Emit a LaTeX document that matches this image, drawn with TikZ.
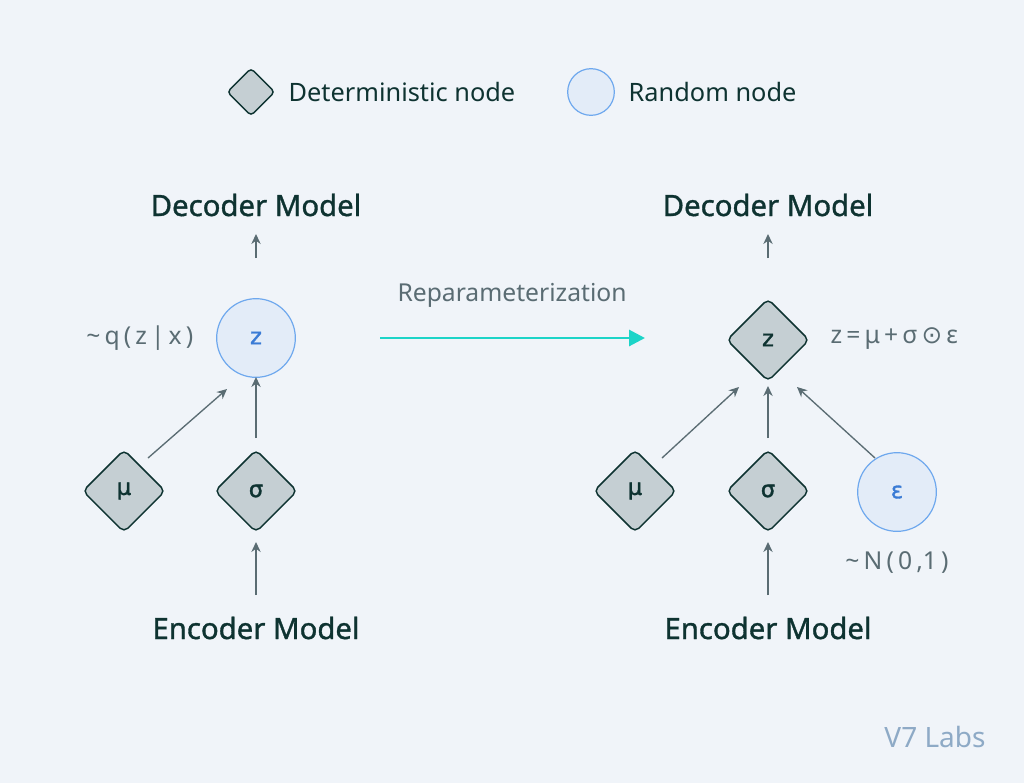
\documentclass[tikz,border=0pt]{standalone}
\usepackage{fontspec}
\setmainfont{Noto Sans}
\newfontfamily\tf[FakeBold=1.2]{Noto Sans}
\newfontfamily\dv{DejaVu Sans}
\newfontfamily\dvb[FakeBold=1.5]{DejaVu Sans}
\usetikzlibrary{shapes.geometric,arrows.meta}
\definecolor{bg}{HTML}{F0F4F9}
\definecolor{dk}{HTML}{0E3331}
\definecolor{dfill}{HTML}{C5CFD3}
\definecolor{rfill}{HTML}{E3ECF8}
\definecolor{rline}{HTML}{6EA8EE}
\definecolor{ar}{HTML}{5A6C73}
\definecolor{lbl}{HTML}{5A6C73}
\definecolor{cy}{HTML}{1CD4C8}
\definecolor{zb}{HTML}{3A7BD5}
\tikzset{
 det/.style={diamond,draw=dk,fill=dfill,line width=1.1pt,minimum width=62pt,minimum height=62pt,rounded corners=4pt,inner sep=0pt,font=\dvb\fontsize{17}{19}\selectfont,text=dk},
 rnd/.style={circle,draw=rline,fill=rfill,line width=0.9pt,minimum size=59pt,inner sep=0pt,font=\dvb\fontsize{17}{19}\selectfont,text=zb},
 ldet/.style={det,minimum width=36pt,minimum height=36pt,rounded corners=3pt},
 lrnd/.style={rnd,minimum size=35pt},
 title/.style={font=\tf\fontsize{22}{26}\selectfont,text=dk},
 lab/.style={font=\fontsize{18.5}{22}\selectfont,text=lbl},
 conn/.style={draw=ar,line width=1pt,-{Stealth[length=7.5pt,width=7pt]}},
}
\begin{document}
\begin{tikzpicture}[x=0.75pt,y=-0.75pt]
\fill[bg] (0,0) rectangle (1024,783);
\useasboundingbox (0,0) rectangle (1024,783);
% legend
\node[ldet] (ld) at (251,92) {};
\node[anchor=west,font=\fontsize{19}{22}\selectfont,text=dk] (ldt) at (284,92) {Deterministic node};
\node[lrnd] (lr) at (591,92) {};
\node[anchor=west,font=\fontsize{19}{22}\selectfont,text=dk] (lrt) at (624,92) {Random node};
% left
\node[title] (dec1) at (256,205) {Decoder Model};
\node[rnd] (z1) at (256,338) {z};
\node[det] (mu1) at (124,491) {μ};
\node[det] (s1) at (256,491) {σ};
\node[title] (enc1) at (256,628) {Encoder Model};
\node[lab,anchor=east] (q1) at (198,338) {\textasciitilde\,q\,(\,z\,|\,x\,)};
\coordinate (a1) at (256,258); \coordinate (a1e) at (256,234);
\draw[conn] (a1) -- (a1e);
\coordinate (b1) at (148,458); \coordinate (b1e) at (227,389);
\draw[conn] (b1) -- (b1e);
\coordinate (c1) at (256,438); \coordinate (c1e) at (256,377);
\draw[conn] (c1) -- (c1e);
\coordinate (d1) at (256,595); \coordinate (d1e) at (256,542);
\draw[conn] (d1) -- (d1e);
% middle
\node[lab] (rep) at (512,295) {Reparameterization};
\coordinate (m1) at (380,338); \coordinate (m2) at (645,338);
\draw[draw=cy,line width=2.2pt,-{Triangle[length=12pt,width=12pt]}] (m1) -- (m2);
% right
\node[title] (dec2) at (768,205) {Decoder Model};
\node[det] (z2) at (768,340) {z};
\node[det] (mu2) at (635,491) {μ};
\node[det] (s2) at (768,491) {σ};
\node[rnd] (e2) at (897,492) {ε};
\node[title] (enc2) at (768,628) {Encoder Model};
\node[lab,anchor=west] (zl) at (826,339) {z\,=\,μ\,+\,σ\,{\dv ⊙}\,ε};
\node[lab] (nl) at (897,562) {\textasciitilde\,N\,(\,0\,,1\,)};
\coordinate (a2) at (768,258); \coordinate (a2e) at (768,234);
\draw[conn] (a2) -- (a2e);
\coordinate (b2) at (662,458); \coordinate (b2e) at (739,387);
\draw[conn] (b2) -- (b2e);
\coordinate (c2) at (768,438); \coordinate (c2e) at (768,386);
\draw[conn] (c2) -- (c2e);
\coordinate (f2) at (875,458); \coordinate (f2e) at (797,387);
\draw[conn] (f2) -- (f2e);
\coordinate (d2) at (768,595); \coordinate (d2e) at (768,542);
\draw[conn] (d2) -- (d2e);
\node[font=\fontsize{21}{24}\selectfont,text=ar!50!rline!70!bg] (v7) at (935,737) {V7 Labs};
\end{tikzpicture}
\end{document}
